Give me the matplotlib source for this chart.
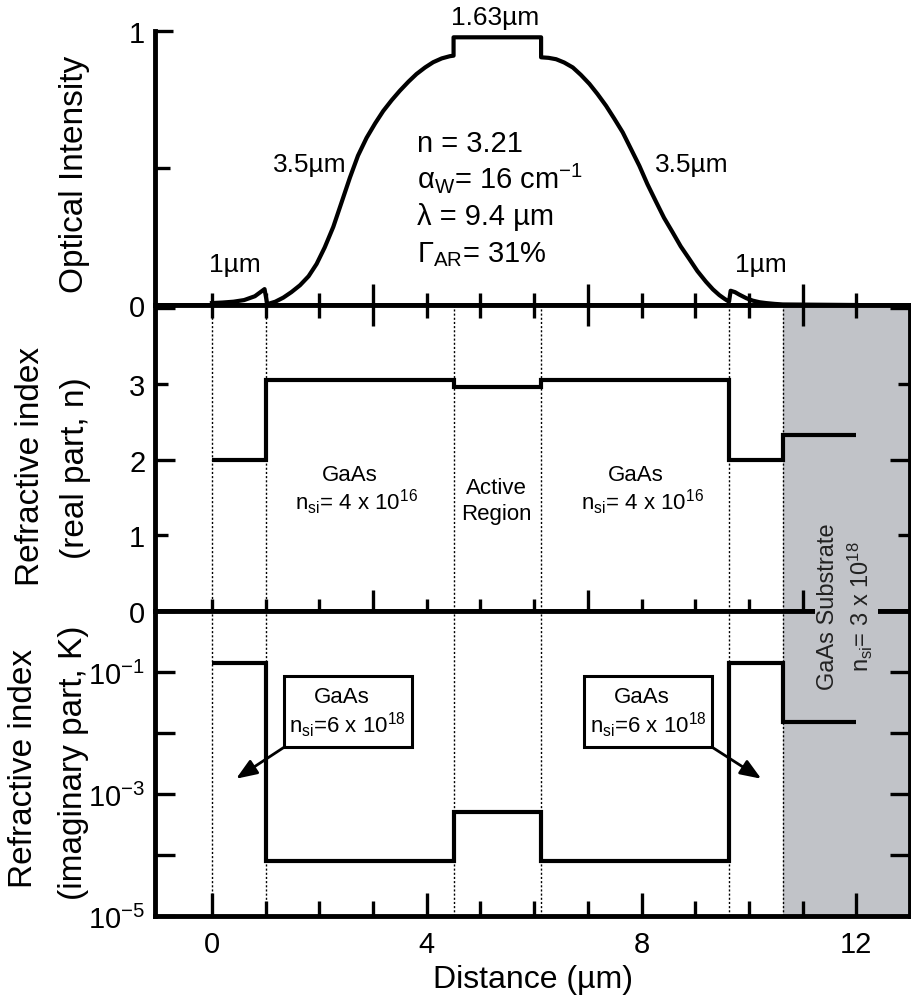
import matplotlib
matplotlib.use('Agg')
import matplotlib.pyplot as plt
from matplotlib.patches import Rectangle
from matplotlib.ticker import FixedLocator, FixedFormatter, NullLocator

plt.rcParams['font.family'] = ['Liberation Sans', 'DejaVu Sans']
plt.rcParams['mathtext.fontset'] = 'custom'
plt.rcParams['mathtext.rm'] = 'Liberation Sans'
plt.rcParams['mathtext.it'] = 'Liberation Sans:italic'
plt.rcParams['mathtext.bf'] = 'Liberation Sans:bold'

# layer boundaries (um): 1um / 3.5um / 1.63um active / 3.5um / 1um / substrate
layer_edges = [0.0, 1.0, 4.5, 6.13, 9.63, 10.63, 12.0]
n_real = [2.0, 3.05, 2.96, 3.05, 2.0, 2.33]
k_imag = [0.14, 8e-5, 5e-4, 8e-5, 0.14, 0.015]

# optical mode intensity
intensity_x = [0.0, 0.20, 0.40, 0.60, 0.80, 0.98, 1.03, 1.18, 1.33, 1.48, 1.64, 1.80, 1.95,
               2.10, 2.26, 2.41, 2.57, 2.72, 2.88, 3.04, 3.19, 3.35, 3.50, 3.66, 3.81,
               3.97, 4.12, 4.28, 4.43, 4.50, 4.50, 6.13, 6.13, 6.27, 6.41, 6.56, 6.72,
               6.87, 7.03, 7.18, 7.34, 7.49, 7.65, 7.80, 7.96, 8.11, 8.27, 8.42, 8.58,
               8.73, 8.89, 9.04, 9.20, 9.33, 9.45, 9.55, 9.63, 9.66, 9.74, 9.82, 9.95,
               10.07, 10.20, 10.32, 10.48, 10.63, 12.0]
intensity_y = [0.007, 0.009, 0.012, 0.018, 0.032, 0.058, 0.003, 0.012, 0.027, 0.047, 0.072,
               0.105, 0.150, 0.210, 0.285, 0.372, 0.465, 0.545, 0.610, 0.663, 0.708, 0.748,
               0.782, 0.815, 0.843, 0.867, 0.886, 0.900, 0.908, 0.910, 0.977, 0.977, 0.904,
               0.902, 0.897, 0.885, 0.867, 0.840, 0.807, 0.770, 0.727, 0.681, 0.630, 0.571,
               0.508, 0.441, 0.377, 0.318, 0.265, 0.214, 0.168, 0.124, 0.085, 0.057, 0.036,
               0.022, 0.012, 0.052, 0.047, 0.038, 0.025, 0.016, 0.010, 0.007, 0.004, 0.002,
               0.0]

k_ticks = [1e-5, 1e-4, 1e-3, 1e-2, 1e-1, 1e0]
k_ticklabels = [r'10$^{\mathrm{-5}}$', '', r'10$^{\mathrm{-3}}$', '',
                r'10$^{\mathrm{-1}}$', '']

LW = 3.0
SPINE = 3.5
GRAY = '#c1c3c8'
XLIM = (-1.06, 13.0)

fig = plt.figure(figsize=(9.12, 10.03), dpi=100)
left, width = 155 / 912, 755 / 912
ax_top = fig.add_axes([left, 697 / 1003, width, 274 / 1003])
ax_mid = fig.add_axes([left, 391 / 1003, width, 306 / 1003])
ax_bot = fig.add_axes([left, 86 / 1003, width, 305 / 1003])

for ax in (ax_top, ax_mid, ax_bot):
    ax.set_xlim(*XLIM)
    for sp in ax.spines.values():
        sp.set_linewidth(SPINE)

# ---- top: optical intensity
ax_top.plot(intensity_x, intensity_y, color='k', lw=LW, solid_joinstyle='round')
ax_top.set_ylim(0, 1)
ax_top.spines['top'].set_visible(False)
ax_top.spines['right'].set_visible(False)
ax_top.tick_params(axis='x', which='both', bottom=False, labelbottom=False)
ax_top.yaxis.set_major_locator(FixedLocator([0, 1]))
ax_top.yaxis.set_major_formatter(FixedFormatter(['0', '1']))
ax_top.yaxis.set_minor_locator(FixedLocator([0.5]))
ax_top.tick_params(axis='y', which='major', direction='in', length=13, width=2.4,
                   labelsize=21, pad=7)
ax_top.tick_params(axis='y', which='minor', direction='in', length=11, width=2.4)

ax_top.text(5.28, 1.026, '1.63µm', ha='center', va='baseline', fontsize=19)
ax_top.text(1.82, 0.489, '3.5µm', ha='center', va='baseline', fontsize=19)
ax_top.text(8.93, 0.489, '3.5µm', ha='center', va='baseline', fontsize=19)
ax_top.text(0.43, 0.124, '1µm', ha='center', va='baseline', fontsize=19)
ax_top.text(10.23, 0.124, '1µm', ha='center', va='baseline', fontsize=19)
params = ['n = 3.21', r'α$_{\mathrm{W}}$= 16 cm$^{\mathrm{-1}}$', 'λ = 9.4 µm',
          r'Γ$_{\mathrm{AR}}$= 31%']
for line, yb in zip(params, [0.562, 0.431, 0.296, 0.161]):
    ax_top.text(3.81, yb, line, ha='left', va='baseline', fontsize=21)

# ---- middle: real index
ax_mid.axvspan(layer_edges[-2], XLIM[1], color=GRAY, lw=0, zorder=0)
for xe in layer_edges[:-1]:
    ax_mid.axvline(xe, color='k', lw=1, ls=(0, (1.5, 1.5)), zorder=1)
ax_mid.stairs(n_real, layer_edges, baseline=None, color='k', lw=LW, zorder=3)
ax_mid.set_ylim(0, 4.04)
ax_mid.yaxis.set_major_locator(FixedLocator([0, 2, 4]))
ax_mid.yaxis.set_major_formatter(FixedFormatter(['0', '2', '']))
ax_mid.yaxis.set_minor_locator(FixedLocator([1, 3]))
ax_mid.yaxis.set_minor_formatter(FixedFormatter(['1', '3']))
ax_mid.tick_params(axis='y', which='both', direction='in', left=True, right=True,
                   labelsize=21, pad=7, width=2.4)
ax_mid.tick_params(axis='y', which='major', length=14.5)
ax_mid.tick_params(axis='y', which='minor', length=9)
ax_mid.xaxis.set_major_locator(FixedLocator([3, 7, 11]))
ax_mid.xaxis.set_minor_locator(FixedLocator(range(0, 13)))
ax_mid.tick_params(axis='x', which='both', direction='inout', top=True, bottom=True,
                   labelbottom=False, width=2.4)
ax_mid.tick_params(axis='x', which='major', length=30)
ax_mid.tick_params(axis='x', which='minor', length=18)

ax_mid.text(2.57, 1.73, 'GaAs', ha='center', va='baseline', fontsize=16)
ax_mid.text(2.70, 1.35, r'n$_{\mathrm{si}}$= 4 x 10$^{\mathrm{16}}$', ha='center',
            va='baseline', fontsize=16)
ax_mid.text(5.30, 1.56, 'Active', ha='center', va='baseline', fontsize=16)
ax_mid.text(5.30, 1.21, 'Region', ha='center', va='baseline', fontsize=16)
ax_mid.text(7.89, 1.73, 'GaAs', ha='center', va='baseline', fontsize=16)
ax_mid.text(8.01, 1.35, r'n$_{\mathrm{si}}$= 4 x 10$^{\mathrm{16}}$', ha='center',
            va='baseline', fontsize=16)

# ---- bottom: imaginary index
ax_bot.axvspan(layer_edges[-2], XLIM[1], color=GRAY, lw=0, zorder=0)
for xe in layer_edges[:-1]:
    ax_bot.axvline(xe, color='k', lw=1, ls=(0, (1.5, 1.5)), zorder=1)
ax_bot.stairs(k_imag, layer_edges, baseline=None, color='k', lw=LW, zorder=3)
ax_bot.set_yscale('log')
ax_bot.set_ylim(1e-5, 1)
ax_bot.yaxis.set_major_locator(FixedLocator(k_ticks))
ax_bot.yaxis.set_major_formatter(FixedFormatter(k_ticklabels))
ax_bot.yaxis.set_minor_locator(NullLocator())
ax_bot.tick_params(axis='y', which='major', direction='in', left=True, right=True,
                   length=14.5, width=2.4, labelsize=21, pad=7)
ax_bot.xaxis.set_major_locator(FixedLocator([0, 4, 8, 12]))
ax_bot.xaxis.set_minor_locator(FixedLocator(range(0, 13)))
ax_bot.tick_params(axis='x', which='both', direction='in', top=False, bottom=True,
                   width=2.4, labelsize=21, pad=10)
ax_bot.tick_params(axis='x', which='major', length=16.5)
ax_bot.tick_params(axis='x', which='minor', length=11)

for x0, x1, tip_x, corner_x, gx, nx in [(1.35, 3.72, 0.45, 1.35, 2.41, 2.52),
                                        (6.93, 9.31, 10.23, 9.31, 8.00, 8.13)]:
    y0, y1 = 10 ** -2.23, 10 ** -1.065
    ax_bot.add_patch(Rectangle((x0, y0), x1 - x0, y1 - y0, facecolor='white',
                               edgecolor='k', lw=2.2, zorder=4))
    ax_bot.text(gx, 10 ** -1.49, 'GaAs', ha='center', va='baseline', fontsize=16, zorder=5)
    ax_bot.text(nx, 10 ** -1.98, r'n$_{\mathrm{si}}$=6 x 10$^{\mathrm{18}}$',
                ha='center', va='baseline', fontsize=16, zorder=5)
    ax_bot.annotate('', xy=(tip_x, 10 ** -2.75), xytext=(corner_x, y0),
                    arrowprops=dict(arrowstyle='-|>,head_length=0.9,head_width=0.35',
                                    color='k', lw=2, shrinkA=0, shrinkB=0,
                                    mutation_scale=14), zorder=5)

# substrate label sits across the mid/bottom boundary and hides the spine there
fig.text(846 / 912, 1 - 607 / 1003,
         'GaAs Substrate\n' + r'n$_{\mathrm{si}}$= 3 x 10$^{\mathrm{18}}$',
         rotation=90, ha='center', va='center', multialignment='center',
         fontsize=17, color='#222222', linespacing=1.3,
         bbox=dict(facecolor=GRAY, edgecolor='none', pad=2))

# axis labels
fig.text(533 / 912, 1 - 980 / 1003, 'Distance (µm)', ha='center', va='center', fontsize=23)
ylabels = [('Optical Intensity', 74, 174), ('Refractive index', 31, 466),
           ('(real part, n)', 76, 468), ('Refractive index', 24, 768),
           ('(imaginary part, K)', 74, 763)]
for txt, px, py in ylabels:
    fig.text(px / 912, 1 - py / 1003, txt, rotation=90, ha='center', va='center',
             fontsize=24)

fig.savefig('out.png', dpi=100, facecolor='white')
